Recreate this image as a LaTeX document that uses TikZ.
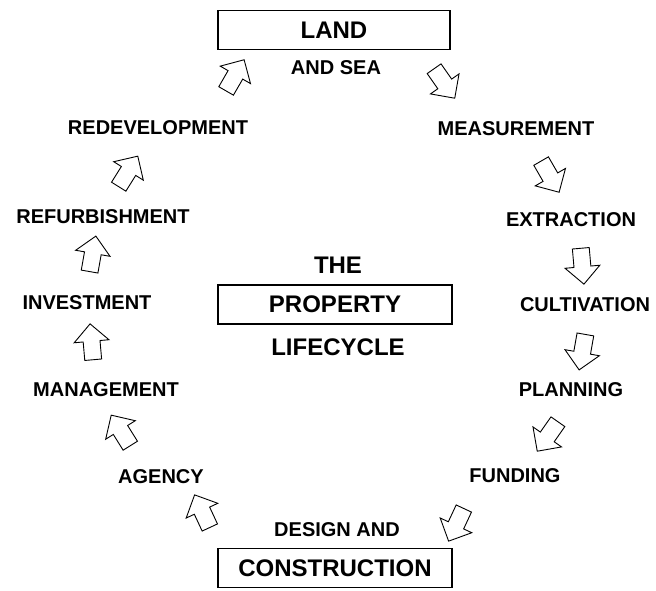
\documentclass[tikz,border=0pt]{standalone}
\usepackage{fontspec}
\setmainfont{Liberation Sans}
\usetikzlibrary{shapes.arrows}

\newcommand{\stagefont}{\fontsize{20}{20}\selectfont\bfseries}
\newcommand{\titlefont}{\fontsize{24}{24}\selectfont\bfseries}

\tikzset{
  stage/.style={font=\stagefont, inner sep=0pt},
  title/.style={font=\titlefont, inner sep=0pt},
  titlebox/.style={draw, line width=1.6pt, font=\titlefont,
    minimum width=232pt, minimum height=39pt, inner sep=0pt},
  cyclearrow/.style={single arrow, draw, fill=white, line width=0.9pt,
    minimum height=36pt, minimum width=0pt, single arrow head extend=9pt,
    inner xsep=3pt, inner ysep=8pt}
}

\begin{document}
\begin{tikzpicture}[x=1pt, y=-1pt]
        \useasboundingbox (0,0) rectangle (656,590);

        \node [titlebox] (land) at (334,30) {LAND};
        \node [stage] (andsea) at (336,68) {AND SEA};

        \node [stage] (redev) at (158,128) {REDEVELOPMENT};
        \node [stage] (refurb) at (103,217) {REFURBISHMENT};
        \node [stage] (invest) at (87,303) {INVESTMENT};
        \node [stage] (manage) at (106,390) {MANAGEMENT};
        \node [stage] (agency) at (161,477) {AGENCY};

        \node [stage] (measure) at (516,129) {MEASUREMENT};
        \node [stage] (extract) at (571,220) {EXTRACTION};
        \node [stage] (cultiv) at (585,305) {CULTIVATION};
        \node [stage] (plan) at (571,390) {PLANNING};
        \node [stage] (fund) at (515,476) {FUNDING};

        \node [stage] (design) at (337,530) {DESIGN AND};
        \node [titlebox, minimum width=234pt] (constr) at (335,568) {CONSTRUCTION};

        \node [title] (the) at (338,265) {THE};
        \node [titlebox, minimum width=234pt] (property) at (335,304.5) {PROPERTY};
        \node [title] (lifecycle) at (338,347) {LIFECYCLE};

        % arrows round the cycle, clockwise
        \node [cyclearrow, rotate=-55] (arr1) at (442,80) {};
        \node [cyclearrow, rotate=-60] (arr2) at (548,173) {};
        \node [cyclearrow, rotate=-85] (arr3) at (582,262) {};
        \node [cyclearrow, rotate=-100] (arr4) at (583,348) {};
        \node [cyclearrow, rotate=-125] (arr5) at (550,433) {};
        \node [cyclearrow, rotate=-115] (arr6) at (458,521) {};
        \node [cyclearrow, rotate=115] (arr7) at (204,515) {};
        \node [cyclearrow, rotate=122] (arr8) at (123,434) {};
        \node [cyclearrow, rotate=95] (arr9) at (92,346) {};
        \node [cyclearrow, rotate=80] (arr10) at (92,258) {};
        \node [cyclearrow, rotate=58] (arr11) at (126,175) {};
        \node [cyclearrow, rotate=60] (arr12) at (233,79) {};
      \end{tikzpicture}
\end{document}
